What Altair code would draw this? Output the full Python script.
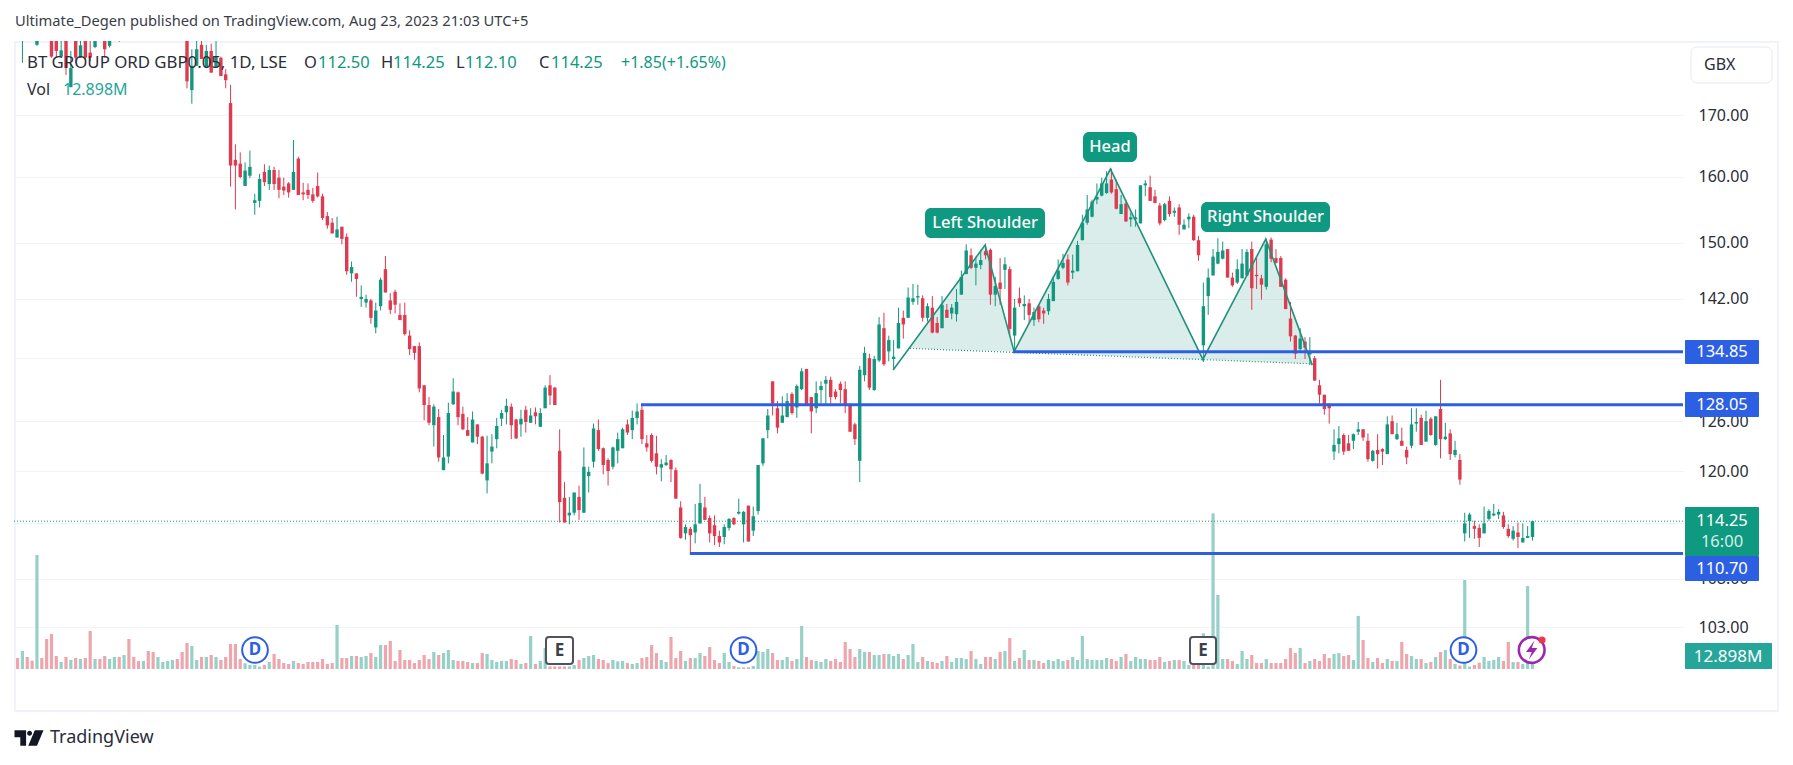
import altair as alt
import pandas as pd

# ---- candles: (open, high, low, close), GBX ----
candles_jun = [
(187,189,185,186),(184,187,178.9,186),(186,187,184,185),(185,186,183.5,184),(182.1,185,181.9,184),
(186,187,184,185),(186,187,183.5,184),(184,185,179.8,180),(183.5,184.5,179.8,181),(180,183,180,181.1),
(183,184,176.8,178),(174.7,181,174.7,178),(183,184,178.9,179.8),(179.8,184,179.8,182),(183,184,179.6,179.8),
(180.7,183,179.2,179.8),(181.7,184,181.5,183.5),(186,187,184,185),(184,185,179.8,181.3),(181.9,185,181.6,184),
(184,187,183.5,186),(186,187,182.6,184),(184,187,183.5,186),(187,188,184.5,185),(186,187,184,185),
(186,187,184.5,185),(185,187,184.5,186),(187,188,185,186),(187,188,185,185.5),(185.5,188,185,187),
(187,189,186,188),(188,190,187,189),(189,191,188,190),(190,191,187,188),(188,189,183,184),
(182.8,184,174.5,175.7),(174.2,181.3,171.9,178.4),(178.4,183,178.4,181.3),(182.1,183.5,179.6,179.6),(178,182.1,178,181),
(181,182.3,177.2,177.2),(178,183,178,180),(179.8,180,176.6,176.6),(176.9,177.8,174.5,175.9),
]
candles_aug = [
(172,175.1,158.5,161.8),(162.7,165.2,155,161.8),(162.1,163.9,159.8,160),(158.6,162.3,158.6,161),(160.2,164.2,159.8,161.6),
(156,157.4,154.2,156.4),(156.3,160.5,155.3,159.7),(160.8,162,158.6,159.2),(158.9,161.8,158,161.1),(161.1,161.6,158,158.9),
(159.9,161.1,156.7,158),(158.5,159.9,157.2,157.9),(159,159.2,156.8,157.6),(158,165.9,158,160.8),(162.9,163.2,157.2,157.2),
(157.6,159.1,156.4,157.3),(158,159,156.6,157.2),(157.3,158.3,156,156.3),(158.6,160.7,156.8,157),(157,157.4,153.4,153.7),
(154,154.6,152.1,152.6),(153,153.7,151.4,151.4),(150.8,153.9,150.8,152),(152.4,152.4,149.8,150.6),(150.9,151.4,145.4,145.9),
(145.6,147.3,144.4,146.5),(145.6,145.6,142.3,144.8),(142,143.9,140.9,142.3),(141.5,142.6,140.8,142),(141.8,142,138.6,139.4),
(138.1,141.5,137.3,140.4),(141,145,140.4,144.7),(146.2,148.1,142.9,142.9),(141.8,142.8,139.9,140.5),(143,143.3,140,141.2),
(139.8,141.4,139.1,139.1),(139.8,141.5,137,137.2),(137,137.7,134.4,135.2),(135.6,135.6,133.8,134.7),(135.6,136.1,129.6,130.1),
]
candles_oct = [
(130.5,130.5,126.1,128),(128,129,125.5,125.8),(125.5,128.1,122.9,127.8),(126.5,127.5,121.1,121.6),(120.1,124.3,120.1,121.6),
(121.7,128.3,120.9,127),(128.1,131.4,128,129.7),(129.6,129.7,125.5,126.5),(126.9,127.8,124.9,125),(124.9,126.5,124.2,124.2),
(123.4,127.2,123.4,126.2),(125.6,125.6,123.2,124.1),(124.1,124.2,119.6,119.7),(118.9,124.2,117.4,120.9),(122.3,124.4,120.9,122.9),
(123.8,126.4,122.7,125.4),(126.3,127.4,125.4,127),(127.1,128.8,125.6,127.9),(127.8,128.2,123.8,125.5),(126.2,126.3,123.8,123.9),
(125.6,127.4,124.1,126.3),(127.4,127.9,124.6,125.9),(125.8,127.6,125.8,126.7),(127.1,127.7,125.6,126.6),(125.3,127.6,125.3,127),
(127.6,130.5,127.6,130.2),(130.5,131.8,128,129.2),(130.2,130.3,128,128),
]
candles_nov = [
(122.4,125,114.1,116.4),(116.9,118.7,114.1,114.1),(114.9,117,113.9,115.2),(115.2,117.5,114.9,117.5),(117,118.3,114.4,115.5),
(115.2,122.8,115.2,120.5),(119.4,120.5,117.5,119.9),(121.1,125.7,120.4,125.1),(124.9,126.2,122.4,122.6),(122.7,122.8,119.6,120.7),
(121.3,121.5,118.3,120),(120.5,122.9,120.2,122.8),(122.4,124.6,120.9,123.8),(122.7,125.2,122.7,125),(125.6,126.2,124.3,124.6),
(124.9,127.3,123.8,126.4),(126.4,128.2,125.6,127.2),(127.4,128.1,123.2,123.8),(123.3,124.3,122.3,122.8),(124.3,124.5,121,121.2),
(122.1,124.2,119.6,120.5),(120.4,121.4,118.8,120.8),(120.7,121.9,120.6,121),(121.3,121.4,118.7,120.2),(120.1,120.4,116.8,116.8),
(115.8,116.5,112.3,112.4),(112.9,113.9,112.2,113.6),(113.4,113.6,110.8,112.7),(113,116.2,111.8,113.9),(114,118.5,114,116.3),
(115.8,117,114.4,114.4),(114.6,114.9,111.9,112.9),(113.8,114.9,111.6,112.6),(112.6,113.2,111.4,111.9),(112.5,113.9,111.7,113.6),
(113.5,114.6,113.2,114.5),(114.6,114.7,113.8,113.9),(115.1,116.8,115,115.3),(113.9,115.4,111.9,115.3),(116,116,112,112),
]
candles_jan = [
(113.2,115.9,112.6,114.8),(115.4,120.7,115,120.7),(120.9,123.9,120.6,123.9),(124.9,127.5,123.9,126.7),(131,131,126.7,128.2),
(127.6,128.5,124.5,125.2),(125.8,129.1,125.8,126.7),(126.5,129.5,126.5,128.5),(129.4,129.6,126.8,127),(127.7,130.6,126.4,130.4),
(130,132.7,129.9,132.3),(132.6,132.6,128.1,128.1),(129,129,124.5,127.2),(127.6,131,127,129.5),(129.9,131,128.2,130.4),
(130.7,131.7,128.1,131.2),(131.2,131.6,128.2,129),(129.7,130,128.7,129),(130.7,131,128.2,129.9),(130,131,127,128.1),
(128.1,128.2,124.7,124.7),(125.6,125.8,123.1,123.8),(121.2,133,118.7,132.5),(131.8,135.5,131,134.7),(134,134.6,129.9,130.2),
(129.9,134.3,129.8,133.9),(133.7,139.5,133.5,138.5),(138,140.1,133,133.2),(134.9,137,133.6,136.4),(133.9,136.4,132.5,134.2),
]
candles_mar = [
(135.3,140.8,135.3,138.7),(139.4,140.4,136.6,138.5),(139.4,143.6,139.4,142.2),(141.6,144.1,141.2,142.1),(142.2,144,141.2,142.4),
(142.1,142.5,138.9,139.4),(139.4,141.4,138.9,141),(140.8,142.4,137.3,137.4),(138.7,139.5,137.3,137.4),(138,142.4,138,141.2),
(140.5,141.3,139.4,139.4),(140,141.3,139.2,140.8),(139.9,143.4,138.9,141.6),(142.6,146,142.6,145.1),(145.5,149.8,145.5,148.9),
(148.2,149.2,146.2,146.4),(146.4,148,143.9,147),(146.8,149,146.2,147.5),(148.8,149.9,147.6,148.2),(149,149.2,141.2,142.6),
(142.6,145.1,141,143.8),(144.3,147.8,141.2,143.4),(146.1,147.9,143.4,146.9),(146.2,146.6,137,137.9),(137,142,135,140.8),
(142.1,143.6,140.9,141.4),(141,142.5,139.1,141.3),(141.4,142,138.6,139.8),(139.1,140.8,138.3,140.2),(141,141.3,138.8,139.2),
(140.4,140.8,138.6,140),(140.3,142.7,139.8,142),(141.7,145.2,141.7,144.4),(144.8,147.6,144.7,146),(146.4,148.4,146.2,147.1),
(147.6,148.3,143.9,144.3),(145.7,148.3,144.8,146),(145.9,150.3,145.9,149.7),(150.4,154.2,150.4,153),(153,157.2,152.7,155),
(153.9,156.5,153.8,156.2),(156.5,159,155.8,156.9),(157.1,159.9,157,159),(157.5,160.9,157.4,159),(159.6,161.3,157.4,157.6),
]
candles_may = [
(158.1,159.6,155,155.1),(154.3,157.2,154.3,155.8),(155.9,156.5,153.1,153.2),(153.5,154.5,152.4,153.8),(153.5,155,152.4,153.8),
(152.9,158.7,152.9,158.7),(158.7,159.5,157,159),(158.4,160.2,156.3,156.3),(157,158,155.9,156),(155.6,156,152.6,152.9),
(153.4,156,153.2,155.8),(156.3,157,153.9,154.3),(154.5,155.3,153.9,154.8),(155.3,155.8,151.2,152.7),(152,153.5,152,152.7),
(153.5,154.4,152.2,153.9),(153.9,154.2,150.3,150.4),(150.4,151,147.4,148.2),(135.7,144.3,133.5,141),(142.4,146.3,139.8,145),
(145.3,149.1,145.3,148),(147,150.7,146.9,148.7),(147.7,150.2,147.6,148.9),(149.1,149.1,145,145),(145,145.7,143.7,143.9),
(144.3,147.6,144.1,146.2),(144.9,149.1,144.9,147),(145.3,149.1,145.2,148.7),(149.1,150.2,140.5,143.5),(145.4,147.8,143.4,145.2),
(144.9,145.4,141.9,144),(143.7,150.6,143.3,149.8),(150.5,150.8,147.2,147.7),(147.8,149.1,147,147.1),(147.8,148.1,143.7,143.7),
(144.7,144.9,140.6,140.6),(139.3,141.6,136.2,136.9),(137,137.1,133.9,134.6),(135.2,138,135,136.6),(136.2,136.8,133.9,135.4),
(134.5,136.8,133.1,134.9),(134,134.3,131.1,131.1),(130.5,131.2,128.2,129.3),(129.3,129.3,126.8,127.5),(127.9,128.2,125.7,127.6),
]
candles_jul = [
(122.3,125,121.3,123.1),(123.2,125.4,122.1,123.9),(124.3,124.5,121.9,122.3),(123.3,124.3,122.4,122.4),(123.6,124.5,122.6,124.4),
(124.7,125.9,124.3,125),(125,125,123.6,124),(123.6,124.5,121.1,121.4),(121.2,122.5,121.1,122.4),(122.5,124.4,120.3,122),
(122.6,122.7,120.7,122.3),(122,126.6,122,125.6),(126,126.7,124.4,124.4),(123.8,125.8,123.7,124.4),(123.6,125.2,123,123),
(122.5,122.9,120.8,121.6),(123,127.6,122.7,125.6),(125.7,127.6,124.7,125.9),(126.4,126.8,123.1,123.1),(123.5,127.3,123.5,126),
(126.3,126.5,124.2,124.3),(123.1,126.6,123,126.6),(127.5,131.2,121.5,123.8),(123.8,125.8,123.7,124.1),(124.5,125,121.3,122),
(121.9,123.6,121.6,122.5),(121.3,122,118.4,119),
]
candles_aug23 = [
(112.9,115.2,112,114),(114.25,115.2,112.4,115),(113.7,114.3,112.3,113.4),(113.5,113.9,111.4,112.4),(112.9,115.9,112.9,114),
(114.5,115.6,114.3,115.4),(114.9,116.2,114.8,115.1),(115,115.6,114.5,115.3),(114.9,115.3,113.4,113.6),(113.4,113.9,112.4,112.6),
(112.3,113.7,112.1,113.2),(113,114.1,111.3,112.5),(111.9,114,111.9,112.4),(112.4,113.7,112.4,112.6),(112.5,114.25,112.1,114.25),
]

# ---- volume, millions of shares ----
vol_a = [12.5,20.5,13.7,9.5,130,12.5,34.2,39.9,14.8,8,13.7,10.3,12.5,11.4,12.5,43.3,11.4,11.4,14.8,11.4,
         13.7,13.7,16,34.2,13.7,9.1,9.1,20.5,19.4,13.7,8,9.1,10.3,11.4,19.4,29.6,26.2,10.3,13.7,13.7,
         16,13.7,10.3,13.7,28.5,28.5,11.4,6.5,4.6,4.6,2.7,4.6,8,17.1,11.4,6.8,5.7,9.1,6.8,5.7]
vol_b = [8,8,8,11.4,5.7,6.8,50.2,12.5,12.5,14.8,14.8,13.7,14.8,18.2,13.7,27.4,27.4,31.9,9.1,21.7,
         10.3,10.3,6.8,10.3,16,11.4,19.4,16,18.2,21.7,10.3,9.1,9.1,8,6.8,6.8,18.2,17.1,10.3,8,
         9.1,9.1,11.4,10.3,5.7,6.8,37.6,5.7,9.1,23.9,3,3,3,3,3,4.6,10.3,12.5,14.8,16,11.4]
vol_c = [10.3,6.8,10.3,8.7,9.1,6.8,5.7,6.8,12.5,13.7,27.4,18.2,10.3,8,36.5,12.5,20.5,9.1,12.5,12.5,
         18.2,14.8,25.1,10.3,6.8,18.2,8,3.4,1.9,1.9,1.9,3.4,20.5,19.4,22.8,18.2,10.3,10.3,13.7,9.1,11.4,49]
vol_d = [13.7,10.3,9.1,8,11.4,9.1,11.4,8,30.8,22.8,13.7,22.8,19.4,19.4,16,16,17.1,17.1,14.8,17.1,
         11.4,16,28.5,8,13.7,9.1,8,6.8,9.1,14.8,8,12.5,12.5,11.4,20.5,11.4,5.7,13.7,13.7,11.4,
         19.4,20.5,35.3,9.1,12.5,21.7,10.3,10.3,9.1,6.8,10.3,9.1,11.4,9.1,10.3,13.7,10.3,37.6]
vol_e = [11.4,10.3,10.3,10.3,12.5,11.4,9.1,13.7,17.1,9.1,13.7,11.4,11.4,10.3,10.3,13.7,8,9.1,10.3,10.3,9.1,4.6,4.6]
vol_f = [8,40.7,2.7,177.5,84.4,11.4,11.4,9.1,5.7,20.5,11.4,16,6.8,6.8,11.4,6.8,6.8,6.8,11.4,23.9,
         18.2,23.9,6.8,9.1,11.4,9.1,17.1,12.5,17.1,18.2,14.8,16,10.3,60.4,33.1,12.5,8,12.5,6.8,11.4,
         9.1,9.1,30.8,17.1,14.8,11.4,11.4,6.8,8,13.7,19.4,21.7,11.4,5.7,4,101.5,2.7,4.6,7.2,13.7,
         9.1,10.3,13.7,9.1,30.8,8,8,5.7,94.6,12.898]

# ---- axes and drawings ----
time_ticks = [5.0, 46.2, 89.1, 113.9, 151.9, 192.9, 233.8, 275.9, 319.1]
time_labels = ["Jun", "Aug", "Oct", "7", "2023", "Mar", "May", "Jul", "Sep"]
price_ticks = [170, 160, 150, 142, 134, 126, 120, 114, 108, 103]
level_prices = [134.85, 128.05, 110.70]
level_starts = [205.7, 128.8, 138.9]
last_price = 114.25
pat_bar = [180.9, 199.9, 205.9, 225.8, 244.9, 257.9, 267.5]
pat_price = [132.47, 149.7, 134.87, 161.25, 133.85, 150.57, 133.1]
tri_name = ["l", "l", "l", "h", "h", "h", "r", "r", "r"]
tri_bar = [184.4, 199.9, 205.9, 205.9, 225.8, 244.9, 244.9, 257.9, 267.5]
tri_top = [135.3, 149.7, 134.87, 134.87, 161.25, 133.85, 133.85, 150.57, 133.27]
tri_neck = [135.3, 135.0, 134.87, 134.87, 134.3, 133.85, 133.85, 133.5, 133.27]
neck_bar = [184.4, 267.5]
neck_price = [135.3, 133.27]

BAR_LO, BAR_HI = -0.744, 344.1
PRICE_LO, PRICE_HI = 98.48, 182.77
VOL_LO, VOL_HI = -4.56, 715.9
W, H = 1669, 632
FONT = "Noto Sans"
UP, DOWN = "#13977f", "#de3a50"
VUP, VDOWN = "#96d0c7", "#eda6ad"
BLUE = "#2d5fe3"
TEAL = "#0f9980"
INK = "#2a2e39"

rows = (candles_jun + candles_aug + candles_oct + candles_nov + candles_jan
        + candles_mar + candles_may + candles_jul + candles_aug23)
vols = vol_a + vol_b + vol_c + vol_d + vol_e + vol_f
n = min(len(rows), len(vols))
df = pd.DataFrame(rows[:n], columns=["o", "h", "l", "c"])
df["bar"] = range(n)
df["v"] = vols[:n]
df["zero"] = 0.0
df["col"] = [UP if c >= o else DOWN for o, c in zip(df.o, df.c)]
df["vcol"] = [VUP if c >= o else VDOWN for o, c in zip(df.o, df.c)]

xs = alt.Scale(domain=[BAR_LO, BAR_HI], nice=False, zero=False)
ys = alt.Scale(type="log", domain=[PRICE_LO, PRICE_HI], nice=False, zero=False)
vs = alt.Scale(domain=[VOL_LO, VOL_HI], nice=False, zero=False)

def X(f):
    return alt.X(f, type="quantitative", scale=xs, axis=None, title=None)

def Y(f):
    return alt.Y(f, type="quantitative", scale=ys, axis=None, title=None)

label_expr = "".join(f"datum.value=={t}?'{s}':" for t, s in zip(time_ticks, time_labels)) + "''"
price_expr = "datum.value==134||datum.value==114?'':format(datum.value,'.2f')"

x_axis = alt.Axis(values=time_ticks, labelExpr=label_expr, title=None, grid=True, gridColor="#f2f3f6",
                  domain=False, ticks=False, labelFont=FONT, labelFontSize=15, labelColor="#131722",
                  labelPadding=10, labelFlush=False, labelOverlap=False,
                  labelFontWeight={"condition": {"test": "datum.value==151.9", "value": "bold"}, "value": "normal"})
y_axis = alt.Axis(values=price_ticks, labelExpr=price_expr, orient="right", title=None, grid=True, gridColor="#f2f3f6",
                  domain=False, ticks=False, labelFont=FONT, labelFontSize=16, labelColor="#2a2e39",
                  labelPadding=15, labelAlign="left", labelOverlap=False, labelFlush=False)

def px(v):
    return v - 14

def py(v):
    return v - 41

def text(s, x, y, color=INK, size=16.5, align="left", weight="normal"):
    return alt.Chart(pd.DataFrame({"a": [0]})).mark_text(
        font=FONT, fontSize=size, color=color, align=align, baseline="middle", fontWeight=weight
    ).encode(x=alt.value(px(x)), y=alt.value(py(y)), text=alt.value(s))

def box(x0, x1, y0, y1, fill, radius=0, stroke=None, sw=1):
    kw = {"fill": fill, "cornerRadius": radius}
    if stroke:
        kw.update(stroke=stroke, strokeWidth=sw)
    return alt.Chart(pd.DataFrame({"a": [0]})).mark_rect(**kw).encode(
        x=alt.value(px(x0)), x2=alt.value(px(x1)), y=alt.value(py(y0)), y2=alt.value(py(y1)))

def sym(x, y, shape, size, fill, stroke=None, sw=2):
    kw = {"shape": shape, "size": size, "filled": True, "fill": fill, "opacity": 1}
    if stroke:
        kw.update(stroke=stroke, strokeWidth=sw)
    else:
        kw.update(strokeWidth=0)
    return alt.Chart(pd.DataFrame({"a": [0]})).mark_point(**kw).encode(
        x=alt.value(px(x)), y=alt.value(py(y)))

base = alt.Chart(df)
volume = base.mark_rule(strokeWidth=3.2).encode(
    x=alt.X("bar:Q", scale=xs, axis=x_axis),
    y=alt.Y("v:Q", scale=vs, axis=None),
    y2="zero:Q",
    color=alt.Color("vcol:N", scale=None))
wick = base.mark_rule(strokeWidth=1, clip=True).encode(
    x=X("bar"), y=alt.Y("h:Q", scale=ys, axis=y_axis), y2="l:Q", color=alt.Color("col:N", scale=None))
body = base.mark_rule(strokeWidth=3.4, clip=True).encode(
    x=X("bar"), y=Y("o"), y2="c:Q", color=alt.Color("col:N", scale=None))

last_df = pd.DataFrame({"a": [BAR_LO], "b": [BAR_HI], "p": [last_price]})
last_line = alt.Chart(last_df).mark_rule(color=TEAL, strokeWidth=1, strokeDash=[1, 2]).encode(
    x=X("a"), x2="b:Q", y=Y("p"))

tri_df = pd.DataFrame({"t": tri_name, "bar": tri_bar, "top": tri_top, "neck": tri_neck})
fill = alt.Chart(tri_df).mark_area(color="#16917b", opacity=0.16).encode(
    x=X("bar"), y=Y("top"), y2="neck:Q", detail="t:N")
pat_df = pd.DataFrame({"bar": pat_bar, "p": pat_price})
pat = alt.Chart(pat_df).mark_line(color="#22917c", strokeWidth=1.6).encode(x=X("bar"), y=Y("p"))
neck_df = pd.DataFrame({"bar": neck_bar, "p": neck_price})
neck = alt.Chart(neck_df).mark_line(color="#22917c", strokeWidth=1.2, strokeDash=[1, 2]).encode(x=X("bar"), y=Y("p"))

lv_df = pd.DataFrame({"a": level_starts, "b": [BAR_HI] * 3, "p": level_prices})
levels = alt.Chart(lv_df).mark_rule(color=BLUE, strokeWidth=3).encode(x=X("a"), x2="b:Q", y=Y("p"))

bolt = "M0.3,-1 L-0.6,0.2 H0 L-0.3,1 L0.6,-0.2 H0 Z"
logo = ("M-1,-0.53 H-0.2 V0.53 H-0.6 V-0.05 H-1 Z "
        "M-0.13,-0.33 a0.17,0.17 0 1,0 0.34,0 a0.17,0.17 0 1,0 -0.34,0 Z "
        "M0.4,-0.53 H1 L0.55,0.53 H-0.05 Z")

frame = box(15, 1778, 42, 711, "transparent", stroke="#f0f3fa", sw=2)

layers = [
    frame, volume, last_line, fill, wick, body, pat, neck, levels,
    # pattern labels
    box(925, 1045, 208, 238, TEAL, 6), text("Left Shoulder", 985, 223, "white", 16.5, "center", 500),
    box(1083, 1137, 132, 162, TEAL, 6), text("Head", 1110, 147, "white", 16.5, "center", 500),
    box(1201, 1330, 202, 232, TEAL, 6), text("Right Shoulder", 1265.5, 217, "white", 16.5, "center", 500),
    # price tags
    box(1685, 1759, 340, 364, BLUE, 1), text("134.85", 1722, 352, "white", 16.5, "center"),
    box(1685, 1759, 392, 417, BLUE, 1), text("128.05", 1722, 404.5, "white", 16.5, "center"),
    box(1685, 1759, 507, 556, TEAL, 1), text("114.25", 1722, 521, "white", 16.5, "center"),
    text("16:00", 1722, 542, "#d5efe9", 16.5, "center"),
    box(1685, 1759, 556, 581, BLUE, 1), text("110.70", 1722, 568.5, "white", 16.5, "center"),
    box(1685, 1772, 643, 669, "#26a69a", 1), text("12.898M", 1728, 657, "white", 17, "center"),
    box(1691, 1772, 47, 83, "white", 6, stroke="#e8e9ee", sw=1), text("GBX", 1704, 65, INK, 16),
    # event badges
    sym(255, 650, "circle", 660, "white", BLUE), text("D", 255, 650, BLUE, 17, "center", "bold"),
    box(546, 573, 637, 664, "white", 3, stroke="#50535e", sw=2), text("E", 559.5, 650.5, "#3c3f4a", 17, "center", "bold"),
    sym(743.5, 650, "circle", 660, "white", BLUE), text("D", 743.5, 650, BLUE, 17, "center", "bold"),
    box(1190, 1216, 637, 664, "white", 3, stroke="#50535e", sw=2), text("E", 1203, 650.5, "#3c3f4a", 17, "center", "bold"),
    sym(1463.5, 650, "circle", 660, "white", BLUE), text("D", 1463.5, 650, BLUE, 17, "center", "bold"),
    sym(1531.7, 650, "circle", 660, "white", "#9c27b0", 2.6),
    sym(1531.7, 650, bolt, 360, "#9c27b0"),
    sym(1542, 640, "circle", 50, "#f23645"),
    # header and legend
    text("Ultimate_Degen published on TradingView.com, Aug 23, 2023 21:03 UTC+5", 15, 22, "#3a3d47", 14.7),
    text("BT GROUP ORD GBP0.05, 1D, LSE", 27, 63, "#2a2e39", 16.8),
    text("O", 304, 63), text("112.50", 318, 63, TEAL),
    text("H", 381, 63), text("114.25", 393, 63, TEAL),
    text("L", 456, 63), text("112.10", 465, 63, TEAL),
    text("C", 539, 63), text("114.25", 551, 63, TEAL),
    text("+1.85", 621, 63, TEAL, 16), text("(+1.65%)", 662, 63, TEAL, 16),
    text("Vol", 27, 90, INK, 16), text("12.898M", 63, 90, "#26a69a", 16),
    # footer
    sym(29, 738, logo, 841, "#131722"),
    text("TradingView", 50, 738, "#2a2e39", 18),
]

chart = alt.layer(*layers).resolve_scale(y="independent").properties(
    width=W, height=H, autosize="none",
    padding={"left": 6, "top": 33, "right": 102, "bottom": 84},
    background="white",
).configure_view(stroke=None)

chart.save("out.html", embed_options={"renderer": "svg", "actions": False})
